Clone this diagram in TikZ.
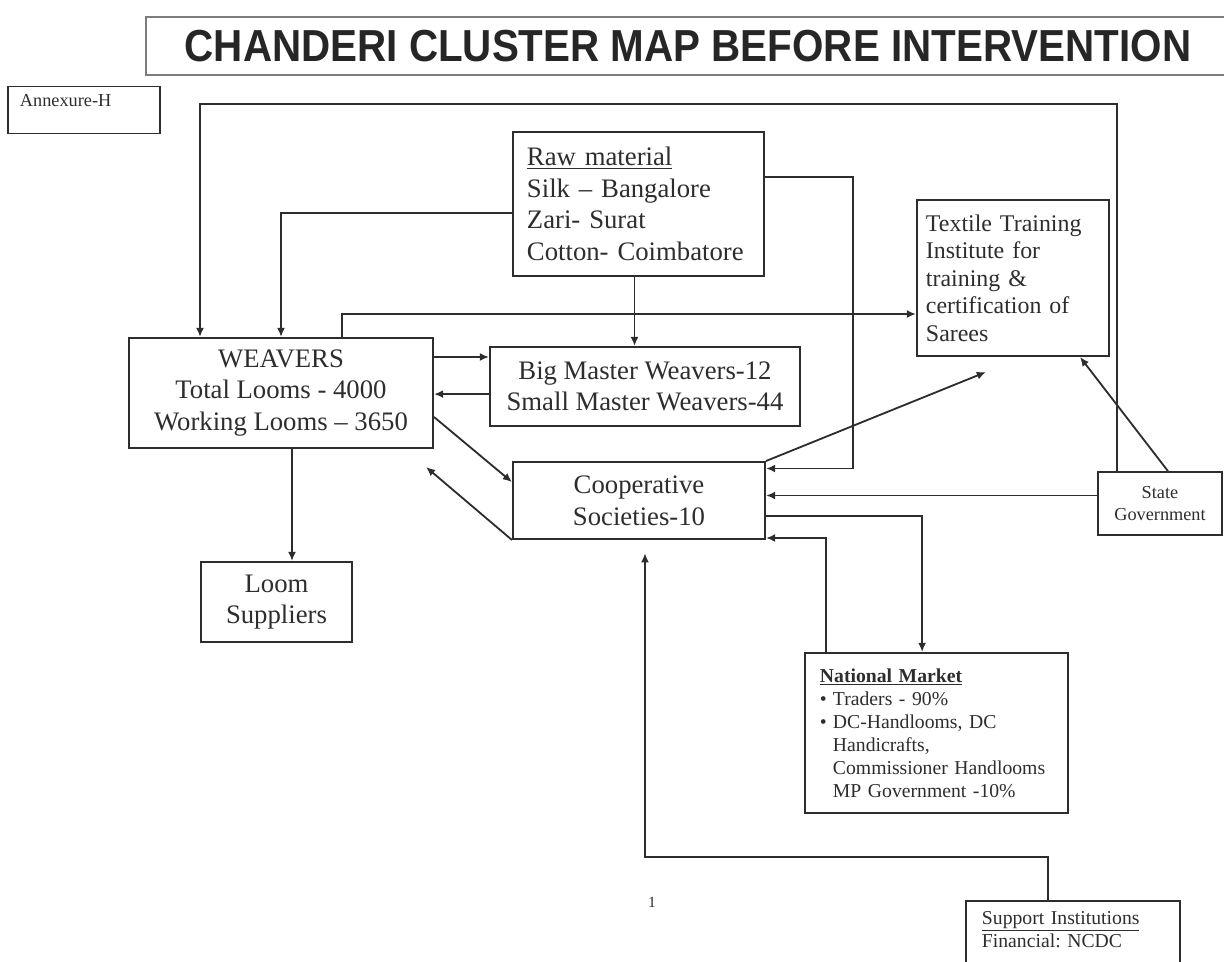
\documentclass[tikz,border=0pt]{standalone}
\usepackage{fontspec}
\setmainfont{Liberation Serif}
\newfontfamily\titlefont[FakeStretch=0.9]{Liberation Sans}
\usepackage{xcolor}
\usepackage{tikz}
\usetikzlibrary{arrows.meta}
\definecolor{ink}{RGB}{45,45,45}
\definecolor{framegray}{RGB}{125,125,125}
\frenchspacing

\begin{document}
\begin{tikzpicture}[x=0.025cm, y=-0.025cm,
        >={Latex[length=2.3mm, width=2mm]},
        box/.style={draw=ink, rectangle, line width=1.4pt, text=ink, align=center, inner sep=0pt, font=\fontsize{19}{22.5}\selectfont},
        leftbox/.style={box, align=left},
        link/.style={draw=ink, line width=1.3pt}
    ]
        \useasboundingbox (0,0) rectangle (1224,961);
        \clip (0,0) rectangle (1224,961);

        % Title
        \node[draw=framegray, line width=1.6pt, minimum width=27.1cm, minimum height=1.45cm, inner sep=0pt, text=black!85, font=\titlefont\bfseries\fontsize{31.9}{36}\selectfont] (title) at (688,46) {CHANDERI CLUSTER MAP BEFORE INTERVENTION};

        % Annexure
        \node[leftbox, anchor=north, line width=0.9pt, text width=3.2cm, inner xsep=0.3cm, inner ysep=0.2cm, text depth=0.475cm, font=\fontsize{13}{15.6}\selectfont] (annex) at (84,86) {Annexure-H};

        % Raw material
        \node[leftbox, text width=5.575cm, inner xsep=0.35cm, minimum height=3.6cm] (raw) at (638.5,204) {\underline{Raw material}\\Silk -- Bangalore\\Zari- Surat\\Cotton- Coimbatore};

        % Textile Training Institute
        \node[leftbox, text width=4.35cm, inner xsep=0.225cm, minimum height=3.9cm, font=\fontsize{17}{19.5}\selectfont] (textile) at (1013,278) {Textile Training\\Institute for\\training \&\\certification of\\Sarees};

        % Weavers
        \node[box, minimum width=7.6cm, minimum height=2.75cm] (weavers) at (281,393) {WEAVERS\\Total Looms - 4000\\Working Looms -- 3650};

        % Master weavers
        \node[box, minimum width=7.75cm, minimum height=1.975cm] (master) at (645,386.5) {Big Master Weavers-12\\Small Master Weavers-44};
        \draw[->, link] ([yshift=0.9cm]weavers.east) -- ([yshift=0.9cm]weavers.east -| master.west);
        \draw[->, link] ([yshift=-0.19cm]master.west) -- ([yshift=-0.19cm]master.west -| weavers.east);
        \draw[->, link] ([xshift=-0.1cm]raw.south) -- ([xshift=-0.1cm]raw.south |- master.north);

        % Cooperative societies
        \node[box, minimum width=6.3cm, minimum height=1.925cm] (coop) at (639,500.5) {Cooperative\\Societies-10};
        \draw[->, link] ([yshift=-0.6cm]weavers.east) -- ([yshift=0.46cm]coop.west);
        \draw[->, link] (coop.south west) -- ([shift={(-0.2cm,-0.45cm)}]weavers.south east);
        \draw[->, link] ([yshift=0.675cm]raw.east) -- ++(2.2cm,0) |- ([yshift=0.8cm]coop.east);
        \draw[->, link] (coop.north east) -- ([shift={(1.75cm,-0.375cm)}]textile.south west);

        % Raw material to weavers, weavers to institute
        \draw[->, link] ([yshift=-0.225cm]raw.west) -| (weavers.north);
        \draw[->, link] ([xshift=1.525cm]weavers.north) |- ([yshift=-0.9cm]textile.west);

        % State Government
        \node[box, minimum width=3.1cm, minimum height=1.575cm, line width=1.2pt, font=\fontsize{13}{15.6}\selectfont] (state) at (1160,503.5) {State\\Government};
        \draw[->, link] ([yshift=0.2cm]state.west) -- ([yshift=0.2cm]state.west -| coop.east);
        \draw[->, link] ([xshift=0.2cm]state.north) -- ([xshift=1.675cm]textile.south);
        \coordinate (looptop) at (200,104);
        \draw[->, link] ([xshift=0.5cm]state.north west) |- (looptop) -- (looptop |- weavers.north);

        % Loom suppliers
        \node[box, minimum width=3.775cm, minimum height=2cm] (loom) at (276.5,602) {Loom\\Suppliers};
        \draw[->, link] ([xshift=0.275cm]weavers.south) -- ([xshift=0.275cm]weavers.south |- loom.north);

        % National market
        \node[leftbox, text width=5.825cm, inner xsep=0.375cm, minimum height=4cm, font=\fontsize{14}{16.4}\selectfont] (national) at (936.5,733) {\underline{\textbf{National Market}}\\\makebox[0.325cm][l]{\textbullet}Traders - 90\%\\\makebox[0.325cm][l]{\textbullet}DC-Handlooms, DC\\\hspace*{0.325cm}Handicrafts,\\\hspace*{0.325cm}Commissioner Handlooms\\\hspace*{0.325cm}MP Government -10\%};
        \draw[->, link] ([yshift=-0.39cm]coop.east) -| ([xshift=-0.36cm]national.north);
        \draw[->, link] ([xshift=-2.76cm]national.north) |- ([yshift=0.05cm]coop.south east);

        % Support institutions
        \node[leftbox, anchor=north, text width=4.55cm, inner xsep=0.4cm, inner ysep=0.25cm, text depth=2cm, font=\fontsize{14}{17}\selectfont] (support) at (1073,900) {\underline{Support Institutions}\\Financial: NCDC};
        \coordinate (fundcorner) at (645,857);
        \draw[->, link, shorten >=0.33cm] ([xshift=-0.625cm]support.north) |- (fundcorner) -- (fundcorner |- coop.south);

        % Page number
        \node[text=ink, font=\fontsize{11}{13}\selectfont] (pagenum) at (652,902) {1};

\end{tikzpicture}
\end{document}
